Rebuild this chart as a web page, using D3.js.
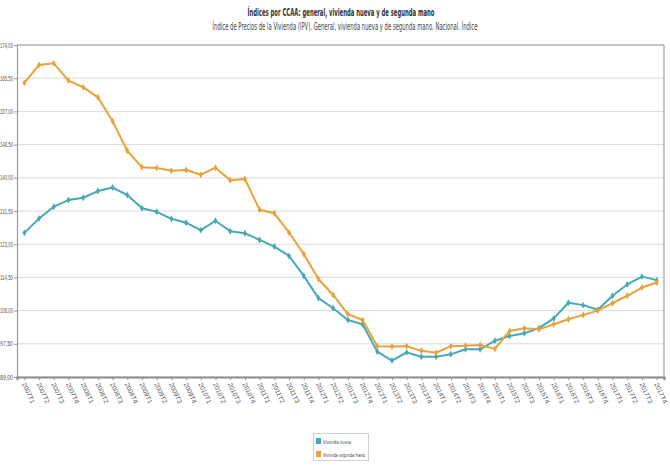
<!DOCTYPE html>
<html><head><meta charset="utf-8">
<script src="https://cdnjs.cloudflare.com/ajax/libs/d3/7.8.5/d3.min.js"></script>
<style>
body{margin:0;background:#fff;}
svg{display:block;font-family:"Liberation Sans Narrow","DejaVu Sans Condensed","Liberation Sans",sans-serif;}
</style></head>
<body><svg id="c" width="670" height="470"></svg>
<script>
const categories = ["2007T1","2007T2","2007T3","2007T4","2008T1","2008T2","2008T3","2008T4",
"2009T1","2009T2","2009T3","2009T4","2010T1","2010T2","2010T3","2010T4",
"2011T1","2011T2","2011T3","2011T4","2012T1","2012T2","2012T3","2012T4",
"2013T1","2013T2","2013T3","2013T4","2014T1","2014T2","2014T3","2014T4",
"2015T1","2015T2","2015T3","2015T4","2016T1","2016T2","2016T3","2016T4",
"2017T1","2017T2","2017T3","2017T4"];
const viviendaNueva = [125.9,129.6,132.6,134.3,134.9,136.6,137.5,135.6,132.2,131.3,129.5,128.5,126.6,129.0,126.3,125.8,
124.1,122.4,120.0,114.9,109.2,106.6,103.6,102.5,95.5,93.2,95.3,94.2,94.2,94.8,96.1,96.1,
98.3,99.5,100.2,101.5,104.0,108.0,107.4,106.2,109.8,112.7,114.7,113.8];
const viviendaSegundaMano = [164.3,168.9,169.3,164.9,163.2,160.6,154.5,146.9,142.7,142.5,141.8,142.0,140.8,142.6,139.4,139.7,
131.8,130.9,126.0,120.5,114.1,110.0,105.1,103.6,96.9,96.8,96.9,95.7,95.2,96.9,97.0,97.2,
96.2,100.8,101.5,101.2,102.5,103.8,104.9,106.0,107.9,109.8,111.9,113.2];
const seriesNames = ["Vivienda nueva","Vivienda segunda mano"];
const yTicks = [89,97.5,106,114.5,123,131.5,140,148.5,157,165.5,174];
const titleText = "Índices por CCAA: general, vivienda nueva y de segunda mano";
const subtitleText = "Índice de Precios de la Vivienda (IPV). General, vivienda nueva y de segunda mano. Nacional. Índice";

const colors = ["#45a9b8","#e9a139"];
const svg = d3.select("#c");
const L = 17, R = 664, T = 45, B = 377;

const x = d3.scalePoint().domain(categories).range([L, R]).padding(0.5);
const y = d3.scaleLinear().domain([89,174]).range([B, T]);

// titles
svg.append("text").attr("x",341).attr("y",16).attr("text-anchor","middle")
  .attr("font-size",10.5).attr("font-weight","bold").attr("fill","#333")
  .attr("textLength",187).attr("lengthAdjust","spacingAndGlyphs").text(titleText);
svg.append("text").attr("x",345).attr("y",30).attr("text-anchor","middle")
  .attr("font-size",10).attr("fill","#444")
  .attr("textLength",265).attr("lengthAdjust","spacingAndGlyphs").text(subtitleText);

// gridlines
svg.append("g").selectAll("line").data(yTicks).join("line")
  .attr("x1",L).attr("x2",R).attr("y1",d=>y(d)).attr("y2",d=>y(d))
  .attr("stroke","#d9d9d9").attr("stroke-width",1);

// frame top/right
svg.append("line").attr("x1",L).attr("x2",R).attr("y1",T).attr("y2",T).attr("stroke","#9a9a9a").attr("stroke-width",1.2);
svg.append("line").attr("x1",R).attr("x2",R).attr("y1",T).attr("y2",B).attr("stroke","#b5b5b5").attr("stroke-width",1.5);

// y axis
const yAxis = d3.axisLeft(y).tickValues(yTicks).tickSize(3).tickPadding(1)
  .tickFormat(d=>d.toFixed(2).replace(".",","));
const gy = svg.append("g").attr("transform",`translate(${L},0)`).call(yAxis);
gy.select(".domain").attr("stroke","#9a9a9a").attr("stroke-width",1.2);
gy.selectAll(".tick line").attr("stroke","#9a9a9a");
gy.selectAll("text").attr("font-size",6.5).attr("fill","#555")
  .attr("textLength",13).attr("lengthAdjust","spacingAndGlyphs");

// x axis
const xAxis = d3.axisBottom(x).tickSize(3).tickPadding(0);
const gx = svg.append("g").attr("transform",`translate(0,${B})`).call(xAxis);
gx.select(".domain").attr("stroke","#8c8c8c").attr("stroke-width",2.2);
gx.selectAll(".tick line").attr("stroke","#8c8c8c");
gx.selectAll("text").attr("font-size",6.5).attr("fill","#555")
  .attr("text-anchor","start").attr("x",0).attr("y",0).attr("dy",0)
  .attr("textLength",22).attr("lengthAdjust","spacingAndGlyphs")
  .attr("transform","translate(-3,7) rotate(65)");

// lines
const series = [viviendaNueva, viviendaSegundaMano];
const line = d3.line().x((d,i)=>x(categories[i])).y(d=>y(d));
series.forEach((s,k)=>{
  svg.append("path").datum(s).attr("d",line).attr("fill","none")
    .attr("stroke",colors[k]).attr("stroke-width",2).attr("stroke-linejoin","round");
  svg.append("g").selectAll("path").data(s).join("path")
    .attr("d",d3.symbol(d3.symbolDiamond,14)())
    .attr("transform",(d,i)=>`translate(${x(categories[i])},${y(d)})`)
    .attr("fill",colors[k]);
});

// legend
const lg = svg.append("g");
lg.append("rect").attr("x",313.5).attr("y",433.5).attr("width",55).attr("height",27)
  .attr("fill","#fff").attr("stroke","#d0d0d0");
const legendW = [28, 42];
seriesNames.forEach((n,k)=>{
  const yy = 442 + k*13;
  lg.append("rect").attr("x",316).attr("y",yy-4).attr("width",5).attr("height",6).attr("fill",colors[k]);
  lg.append("text").attr("x",323).attr("y",yy+1.5).attr("font-size",5.5).attr("fill","#444")
    .attr("textLength",legendW[k]).attr("lengthAdjust","spacingAndGlyphs").text(n);
});
</script></body></html>
